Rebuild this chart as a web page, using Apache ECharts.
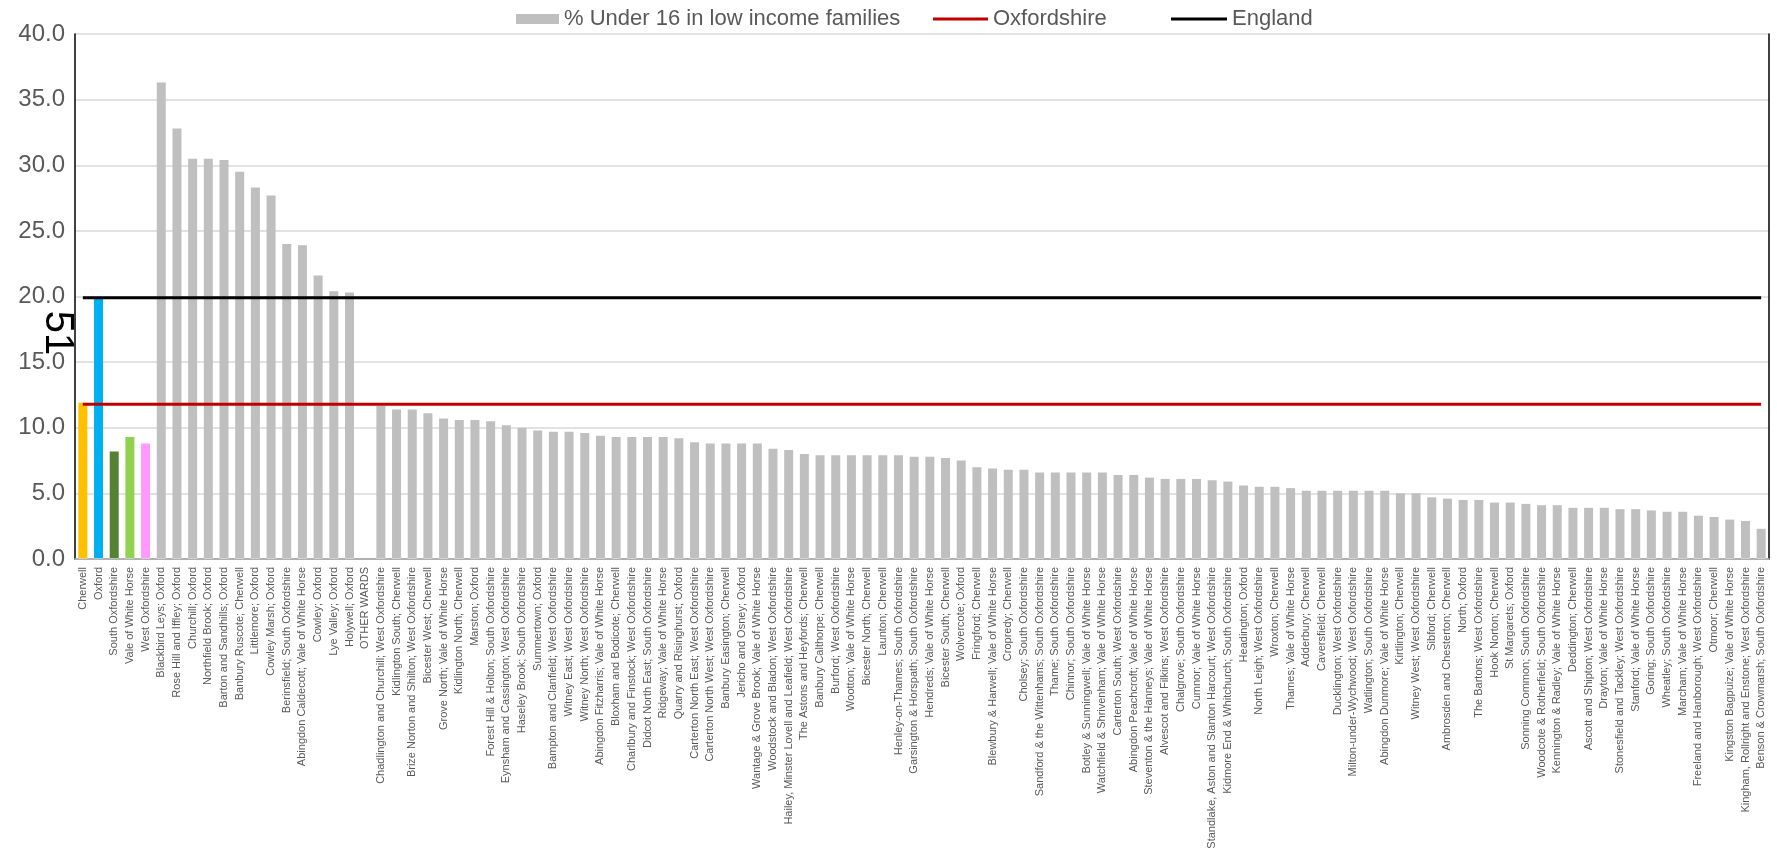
<!DOCTYPE html>
<html>
<head>
<meta charset="utf-8">
<script src="https://cdn.jsdelivr.net/npm/echarts@6/dist/echarts.min.js"></script>
<style>
html,body{margin:0;padding:0;background:#fff;}
#chart{width:1777px;height:857px;}
</style>
</head>
<body>
<div id="chart"></div>
<script>
const categories = [
"Cherwell","Oxford","South Oxfordshire","Vale of White Horse","West Oxfordshire",
"Blackbird Leys; Oxford","Rose Hill and Iffley; Oxford","Churchill; Oxford","Northfield Brook; Oxford","Barton and Sandhills; Oxford",
"Banbury Ruscote; Cherwell","Littlemore; Oxford","Cowley Marsh; Oxford","Berinsfield; South Oxfordshire","Abingdon Caldecott; Vale of White Horse",
"Cowley; Oxford","Lye Valley; Oxford","Holywell; Oxford","OTHER WARDS","Chadlington and Churchill; West Oxfordshire",
"Kidlington South; Cherwell","Brize Norton and Shilton; West Oxfordshire","Bicester West; Cherwell","Grove North; Vale of White Horse","Kidlington North; Cherwell",
"Marston; Oxford","Forest Hill & Holton; South Oxfordshire","Eynsham and Cassington; West Oxfordshire","Haseley Brook; South Oxfordshire","Summertown; Oxford",
"Bampton and Clanfield; West Oxfordshire","Witney East; West Oxfordshire","Witney North; West Oxfordshire","Abingdon Fitzharris; Vale of White Horse","Bloxham and Bodicote; Cherwell",
"Charlbury and Finstock; West Oxfordshire","Didcot North East; South Oxfordshire","Ridgeway; Vale of White Horse","Quarry and Risinghurst; Oxford","Carterton North East; West Oxfordshire",
"Carterton North West; West Oxfordshire","Banbury Easington; Cherwell","Jericho and Osney; Oxford","Wantage & Grove Brook; Vale of White Horse","Woodstock and Bladon; West Oxfordshire",
"Hailey, Minster Lovell and Leafield; West Oxfordshire","The Astons and Heyfords; Cherwell","Banbury Calthorpe; Cherwell","Burford; West Oxfordshire","Wootton; Vale of White Horse",
"Bicester North; Cherwell","Launton; Cherwell","Henley-on-Thames; South Oxfordshire","Garsington & Horspath; South Oxfordshire","Hendreds; Vale of White Horse",
"Bicester South; Cherwell","Wolvercote; Oxford","Fringford; Cherwell","Blewbury & Harwell; Vale of White Horse","Cropredy; Cherwell",
"Cholsey; South Oxfordshire","Sandford & the Wittenhams; South Oxfordshire","Thame; South Oxfordshire","Chinnor; South Oxfordshire","Botley & Sunningwell; Vale of White Horse",
"Watchfield & Shrivenham; Vale of White Horse","Carterton South; West Oxfordshire","Abingdon Peachcroft; Vale of White Horse","Steventon & the Hanneys; Vale of White Horse","Alvescot and Filkins; West Oxfordshire",
"Chalgrove; South Oxfordshire","Cumnor; Vale of White Horse","Standlake, Aston and Stanton Harcourt; West Oxfordshire","Kidmore End & Whitchurch; South Oxfordshire","Headington; Oxford",
"North Leigh; West Oxfordshire","Wroxton; Cherwell","Thames; Vale of White Horse","Adderbury; Cherwell","Caversfield; Cherwell",
"Ducklington; West Oxfordshire","Milton-under-Wychwood; West Oxfordshire","Watlington; South Oxfordshire","Abingdon Dunmore; Vale of White Horse","Kirtlington; Cherwell",
"Witney West; West Oxfordshire","Sibford; Cherwell","Ambrosden and Chesterton; Cherwell","North; Oxford","The Bartons; West Oxfordshire",
"Hook Norton; Cherwell","St Margarets; Oxford","Sonning Common; South Oxfordshire","Woodcote & Rotherfield; South Oxfordshire","Kennington & Radley; Vale of White Horse",
"Deddington; Cherwell","Ascott and Shipton; West Oxfordshire","Drayton; Vale of White Horse","Stonesfield and Tackley; West Oxfordshire","Stanford; Vale of White Horse",
"Goring; South Oxfordshire","Wheatley; South Oxfordshire","Marcham; Vale of White Horse","Freeland and Hanborough; West Oxfordshire","Otmoor; Cherwell",
"Kingston Bagpuize; Vale of White Horse","Kingham, Rollright and Enstone; West Oxfordshire","Benson & Crowmarsh; South Oxfordshire"
];

const under16Values = [
11.9, 19.9, 8.2, 9.3, 8.8,
36.3, 32.8, 30.5, 30.5, 30.4,
29.5, 28.3, 27.7, 24.0, 23.9,
21.6, 20.4, 20.3, null, 11.7,
11.4, 11.4, 11.1, 10.7, 10.6,
10.6, 10.5, 10.2, 10.0, 9.8,
9.7, 9.7, 9.6, 9.4, 9.3,
9.3, 9.3, 9.3, 9.2, 8.9,
8.8, 8.8, 8.8, 8.8, 8.4,
8.3, 8.0, 7.9, 7.9, 7.9,
7.9, 7.9, 7.9, 7.8, 7.8,
7.7, 7.5, 7.0, 6.9, 6.8,
6.8, 6.6, 6.6, 6.6, 6.6,
6.6, 6.4, 6.4, 6.2, 6.1,
6.1, 6.1, 6.0, 5.9, 5.6,
5.5, 5.5, 5.4, 5.2, 5.2,
5.2, 5.2, 5.2, 5.2, 5.0,
5.0, 4.7, 4.6, 4.5, 4.5,
4.3, 4.3, 4.2, 4.1, 4.1,
3.9, 3.9, 3.9, 3.8, 3.8,
3.7, 3.6, 3.6, 3.3, 3.2,
3.0, 2.9, 2.3
];

const oxfordshireValue = 11.8;
const englandValue = 19.9;

const yTicks = [0, 5, 10, 15, 20, 25, 30, 35, 40];

const seriesNames = ["% Under 16 in low income families", "Oxfordshire", "England"];

// style configuration (not data)
const districtColors = {
  "Cherwell": "#FFC000",
  "Oxford": "#00B0F0",
  "South Oxfordshire": "#548235",
  "Vale of White Horse": "#92D050",
  "West Oxfordshire": "#FF99FF"
};
const wardColor = "#BFBFBF";
const FONT = "'Liberation Sans', Arial, sans-serif";

const barData = under16Values.map((v, i) => ({
  value: v,
  itemStyle: { color: districtColors[categories[i]] || wardColor }
}));

const chart = echarts.init(document.getElementById('chart'), null, { renderer: 'canvas' });

const legendText = { fontSize: 22, color: '#595959', fontFamily: FONT };

chart.setOption({
  animation: false,
  backgroundColor: '#fff',
  textStyle: { fontFamily: FONT },
  grid: { left: 75, right: 8, top: 34, bottom: 298, containLabel: false },
  legend: [
    { data: [{ name: seriesNames[0], icon: 'rect' }], left: 511, top: 3, itemWidth: 43, itemHeight: 10, textStyle: legendText, selectedMode: false },
    { data: [{ name: seriesNames[1], icon: 'rect' }], left: 928, top: 3, itemWidth: 55, itemHeight: 3, textStyle: legendText, selectedMode: false },
    { data: [{ name: seriesNames[2], icon: 'rect' }], left: 1166, top: 3, itemWidth: 56, itemHeight: 3, textStyle: legendText, selectedMode: false }
  ],
  xAxis: [
    {
      type: 'category',
      data: categories,
      position: 'bottom',
      axisLine: { show: true, lineStyle: { color: '#D9D9D9', width: 1.5 } },
      axisTick: { show: false },
      axisLabel: { interval: 0, rotate: 90, fontSize: 11, color: '#595959', margin: 8, fontFamily: FONT },
      z: 5
    },
    {
      type: 'category',
      data: categories,
      position: 'top',
      axisLine: { show: true, lineStyle: { color: '#000', width: 1.5 } },
      axisTick: { show: false },
      axisLabel: { show: false }
    }
  ],
  yAxis: [
    {
      type: 'value',
      min: yTicks[0],
      max: yTicks[yTicks.length - 1],
      interval: yTicks[1] - yTicks[0],
      axisLine: { show: true, lineStyle: { color: '#000', width: 1.5 } },
      axisTick: { show: false },
      axisLabel: { fontSize: 24, color: '#595959', margin: 10, fontFamily: FONT, formatter: v => v.toFixed(1) },
      splitLine: { show: true, lineStyle: { color: '#D9D9D9', width: 1.5 } }
    },
    {
      type: 'value',
      min: yTicks[0],
      max: yTicks[yTicks.length - 1],
      interval: yTicks[1] - yTicks[0],
      position: 'right',
      axisLine: { show: true, lineStyle: { color: '#000', width: 1.5 } },
      axisTick: { show: false },
      axisLabel: { show: false },
      splitLine: { show: false }
    }
  ],
  series: [
    {
      name: seriesNames[0],
      type: 'bar',
      data: barData,
      barWidth: 9,
      itemStyle: { color: wardColor },
      z: 2
    },
    {
      name: seriesNames[1],
      type: 'line',
      data: categories.map(() => oxfordshireValue),
      symbol: 'none',
      lineStyle: { color: '#C00000', width: 3 },
      itemStyle: { color: '#C00000' },
      z: 3
    },
    {
      name: seriesNames[2],
      type: 'line',
      data: categories.map(() => englandValue),
      symbol: 'none',
      lineStyle: { color: '#000000', width: 3 },
      itemStyle: { color: '#000000' },
      z: 3
    }
  ],
  graphic: [
    {
      type: 'text',
      x: 57,
      y: 333,
      rotation: -Math.PI / 2,
      z: 100,
      style: {
        text: '51',
        fontSize: 40,
        fontFamily: FONT,
        fill: '#000',
        align: 'center',
        verticalAlign: 'middle',
        textAlign: 'center',
        textVerticalAlign: 'middle'
      }
    }
  ]
});
</script>
</body>
</html>
